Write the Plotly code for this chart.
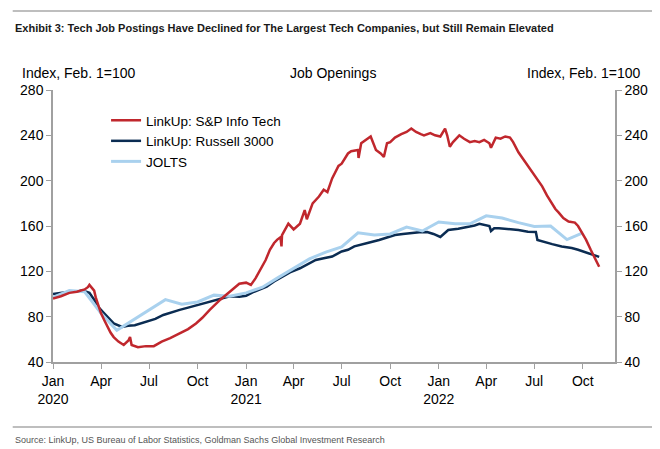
import plotly.graph_objects as go

# ---------------- data ----------------
sp_dates = ["2020-01-01","2020-01-16","2020-02-01","2020-02-15","2020-03-01","2020-03-07","2020-03-10","2020-03-14",
"2020-03-19","2020-03-22","2020-04-01","2020-04-07","2020-04-13","2020-04-19","2020-04-25","2020-05-04","2020-05-14",
"2020-05-23","2020-05-26","2020-05-29","2020-06-10","2020-06-25","2020-07-10","2020-07-25","2020-08-10","2020-08-28",
"2020-09-13","2020-09-28","2020-10-10","2020-10-24","2020-11-13","2020-12-01","2020-12-19","2021-01-01","2021-01-10",
"2021-01-19","2021-01-28","2021-02-07","2021-02-15","2021-02-23","2021-03-01","2021-03-07","2021-03-09","2021-03-10",
"2021-03-22","2021-04-01","2021-04-13","2021-04-22","2021-04-26","2021-05-07","2021-05-19","2021-05-28","2021-06-04",
"2021-06-13","2021-06-25","2021-07-01","2021-07-13","2021-07-19","2021-08-01","2021-08-02","2021-08-07","2021-08-16",
"2021-08-25","2021-09-04","2021-09-13","2021-09-19","2021-09-25","2021-10-01","2021-10-10","2021-10-22","2021-11-01",
"2021-11-10","2021-11-19","2021-11-28","2021-12-04","2021-12-16","2021-12-25","2022-01-04","2022-01-10","2022-01-13",
"2022-01-17","2022-01-22","2022-01-28","2022-02-04","2022-02-09","2022-02-18","2022-03-01","2022-03-10","2022-03-19",
"2022-03-28","2022-04-07","2022-04-10","2022-04-16","2022-04-19","2022-04-28","2022-05-07","2022-05-16","2022-05-22",
"2022-06-01","2022-06-10","2022-06-19","2022-06-28","2022-07-07","2022-07-16","2022-07-25","2022-08-04","2022-08-10",
"2022-08-16","2022-08-25","2022-09-04","2022-09-16","2022-09-22","2022-09-28","2022-10-07","2022-10-16","2022-10-25",
"2022-11-01"]
sp_values = [96,98,101,102,104,106,108,106,103,97,83,77,71,66,62,58,55,59,62,55,53,54,54,58,61,65,69,74,79,86,95,102,109,
110,108,114,121,130,139,145,148,150,142,152,162,157,162,174,166,180,186,192,190,202,213,215,224,226,227,220,233,236,239,
227,224,221,233,234,238,241,243,246,243,241,240,242,240,239,244,246,240,230,234,238,240,237,234,235,234,236,233,229,235,
238,237,239,238,234,225,219,212,207,201,195,187,180,175,172,167,164,163,160,155,148,139,131,124]

r3_dates = ["2020-01-01","2020-01-16","2020-02-01","2020-02-15","2020-02-24","2020-03-04","2020-03-10","2020-03-19",
"2020-03-28","2020-04-07","2020-04-16","2020-04-25","2020-05-11","2020-05-22","2020-06-04","2020-06-16","2020-06-28",
"2020-07-13","2020-07-28","2020-08-13","2020-08-28","2020-09-13","2020-09-28","2020-10-13","2020-11-01","2020-11-16",
"2020-12-01","2020-12-19","2021-01-01","2021-01-16","2021-02-01","2021-02-09","2021-02-23","2021-03-10","2021-03-25",
"2021-04-13","2021-04-28","2021-05-13","2021-05-28","2021-06-13","2021-07-01","2021-07-13","2021-07-25","2021-08-01",
"2021-08-19","2021-09-10","2021-09-25","2021-10-10","2021-10-25","2021-11-10","2021-11-25","2021-12-10","2021-12-22",
"2022-01-04","2022-01-10","2022-01-19","2022-02-07","2022-02-24","2022-03-10","2022-03-19","2022-03-28","2022-04-07",
"2022-04-10","2022-04-16","2022-04-25","2022-05-13","2022-06-01","2022-06-19","2022-07-01","2022-07-04","2022-07-07",
"2022-07-19","2022-08-04","2022-08-22","2022-09-10","2022-09-22","2022-10-04","2022-10-19","2022-11-01"]
r3_values = [100,101,102,102,103,102,101,95,88,83,78,74,71,72,72.5,74,75.5,78,81.5,84,86,88,90,92,94.5,96.5,98,97.6,98.5,
102,105,106.5,111,115,119,122.7,126,130,131.5,133,137.5,139,142,143,145,147.7,150,152,153,154,154.5,154.7,153,150.3,153,
156.5,157.5,159,160.5,162,161,160,155.6,158,158,157.5,156.5,155,155,154.7,147.7,146,144,142,140.6,139,137,135,132.7]

jolts_dates = ["2020-01-01","2020-02-01","2020-03-01","2020-04-01","2020-05-01","2020-08-01","2020-09-01","2020-10-01",
"2020-11-01","2020-12-01","2021-01-01","2021-02-01","2021-03-01","2021-04-01","2021-05-01","2021-06-01","2021-07-01",
"2021-08-01","2021-09-01","2021-10-01","2021-11-01","2021-12-01","2022-01-01","2022-02-01","2022-03-01","2022-04-01",
"2022-05-01","2022-06-01","2022-07-01","2022-08-01","2022-09-01","2022-10-01"]
jolts_values = [97,103,102,83,68,95,91,93,99,98,101,106,114,123,131,137,141.5,154,152,153,159,155.6,163.5,162,162,169,167,
163,159.5,160,148,154]

tick_dates = ["2020-01-01","2020-04-01","2020-07-01","2020-10-01","2021-01-01","2021-04-01","2021-07-01","2021-10-01",
"2022-01-01","2022-04-01","2022-07-01","2022-10-01"]
tick_text = ["Jan<br>2020","Apr","Jul","Oct","Jan<br>2021","Apr","Jul","Oct","Jan<br>2022","Apr","Jul","Oct"]
y_ticks = [40, 80, 120, 160, 200, 240, 280]

RED = "#C0272D"
NAVY = "#0B2C52"
LIGHT = "#A9D1EE"
FONT = "Liberation Sans, Arial, sans-serif"
NARROW = "Liberation Sans Narrow, Arial Narrow, Liberation Sans, Arial, sans-serif"

fig = go.Figure()
fig.add_trace(go.Scatter(x=r3_dates, y=r3_values, mode="lines", name="LinkUp: Russell 3000",
                         line=dict(color=NAVY, width=2.5), legendrank=2))
fig.add_trace(go.Scatter(x=jolts_dates, y=jolts_values, mode="lines", name="JOLTS",
                         line=dict(color=LIGHT, width=3), legendrank=3))
fig.add_trace(go.Scatter(x=sp_dates, y=sp_values, mode="lines", name="LinkUp: S&P Info Tech",
                         line=dict(color=RED, width=2.5), legendrank=1))
# invisible trace to activate right axis
fig.add_trace(go.Scatter(x=jolts_dates, y=jolts_values, mode="lines", yaxis="y2", showlegend=False,
                         hoverinfo="skip", line=dict(width=0, color="rgba(0,0,0,0)")))

# The page places the figure 8px in from the top-left, so the figure is sized to the visible area.
PL, PT, PW, PH = 49, 90, 572, 272   # plot area in window pixels
OFF = 8

def px(X):
    return (X - PL) / PW

def py(Y):
    return (PT + PH - Y) / PH

axis_col = "#A0A0A0"
fig.update_layout(
    width=660 - OFF, height=449 - OFF,
    margin=dict(l=PL - OFF, r=660 - PL - PW, t=PT - OFF, b=449 - PT - PH),
    paper_bgcolor="white", plot_bgcolor="white",
    font=dict(family=FONT, size=14, color="#000000"),
    showlegend=True,
    legend=dict(x=px(103), y=py(105), xanchor="left", yanchor="top", bgcolor="rgba(0,0,0,0)",
                font=dict(size=13.5), tracegroupgap=0, itemwidth=30),
    xaxis=dict(type="date", range=["2020-01-01", "2022-12-01"], tickvals=tick_dates, ticktext=tick_text,
               showgrid=False, zeroline=False, showline=True, linecolor=axis_col, linewidth=1.5,
               ticks="outside", ticklen=5, tickcolor=axis_col, tickangle=0, tickfont=dict(size=14)),
    yaxis=dict(range=[40, 280], tickvals=y_ticks, showgrid=False, zeroline=False, showline=True,
               linecolor=axis_col, linewidth=1.5, ticks="outside", ticklen=5, tickcolor=axis_col,
               tickfont=dict(size=14)),
    yaxis2=dict(range=[40, 280], tickvals=y_ticks, overlaying="y", side="right", showgrid=False,
                zeroline=False, showline=True, linecolor=axis_col, linewidth=1.5, ticks="outside",
                ticklen=5, tickcolor=axis_col, tickfont=dict(size=14)),
)

ann = [
    dict(text="<b>Exhibit 3: Tech Job Postings Have Declined for The Largest Tech Companies, but Still Remain Elevated</b>",
         X=8, Y=28, xanchor="left", font=dict(family=NARROW, size=11, color="#1a1a1a")),
    dict(text="Index, Feb. 1=100", X=15, Y=73, xanchor="left", font=dict(size=14)),
    dict(text="Job Openings", X=334, Y=73, xanchor="center", font=dict(size=14)),
    dict(text="Index, Feb. 1=100", X=648, Y=73, xanchor="right", font=dict(size=14)),
    dict(text="Source: LinkUp, US Bureau of Labor Statistics, Goldman Sachs Global Investment Research",
         X=8, Y=440, xanchor="left", font=dict(family=NARROW, size=9, color="#555555")),
]
annotations = []
for a in ann:
    X, Y = a.pop("X"), a.pop("Y")
    a.update(xref="paper", yref="paper", showarrow=False, yanchor="middle", x=px(X), y=py(Y))
    annotations.append(a)
fig.update_layout(annotations=annotations)

for Y in (11, 427):
    fig.add_shape(type="line", xref="paper", yref="paper", x0=px(OFF), x1=px(660),
                  y0=py(Y), y1=py(Y), line=dict(color="#A8A8A8", width=1.5))

fig.write_html("out.html")
